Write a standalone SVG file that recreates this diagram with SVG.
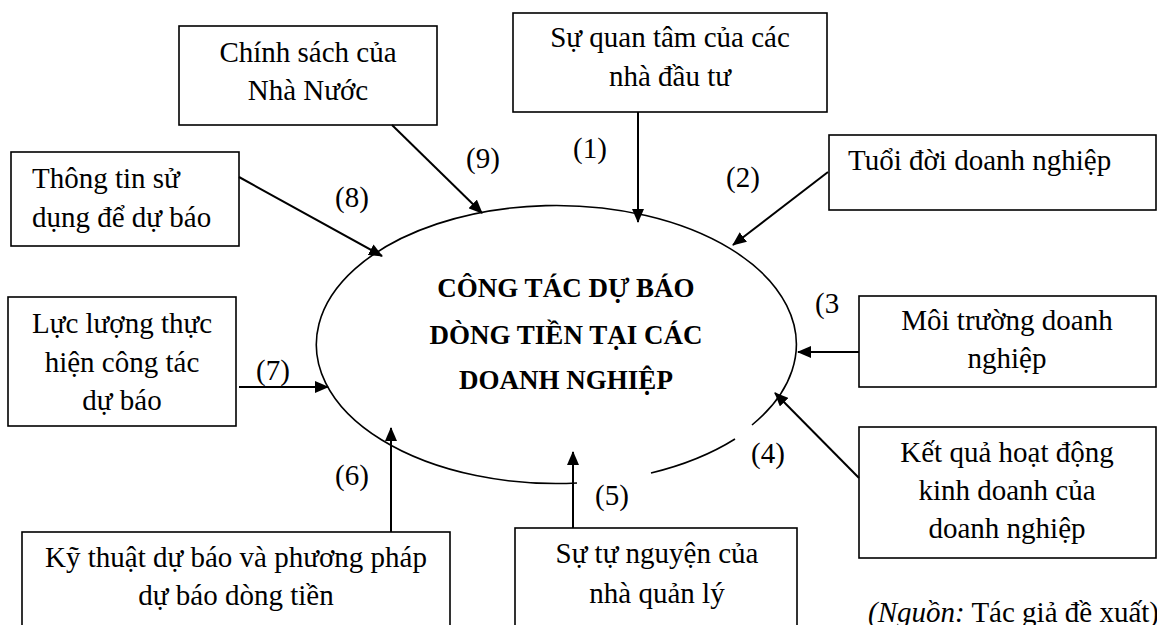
<svg xmlns="http://www.w3.org/2000/svg" width="1157" height="625" viewBox="0 0 1157 625">
<defs>
<style>
.box{fill:#fff;stroke:#000;stroke-width:1.6}
.t{font-family:"Liberation Serif","Times New Roman",serif;font-size:29px;fill:#000}
.c{text-anchor:middle}
.title{font-family:"Liberation Serif","Times New Roman",serif;font-size:27px;font-weight:bold;fill:#000;text-anchor:middle}
.arr{stroke:#000;stroke-width:2;fill:none;marker-end:url(#ah)}
.ell{stroke:#000;stroke-width:1.6;fill:none}
</style>
<marker id="ah" markerUnits="userSpaceOnUse" markerWidth="14" markerHeight="12" refX="13" refY="6" orient="auto">
<path d="M0,0 L14,6 L0,12 z" fill="#000"/>
</marker>
</defs>
<rect width="1157" height="625" fill="#fff"/>

<g id="center">
<path class="ell" d="M752,425 A240,139 0 1 0 577,483"/>
<path class="ell" d="M651,473 A240,139 0 0 0 735,439"/>
<text class="title" x="566" y="297">CÔNG TÁC DỰ BÁO</text>
<text class="title" x="566" y="344">DÒNG TIỀN TẠI CÁC</text>
<text class="title" x="566" y="389">DOANH NGHIỆP</text>
</g>

<g id="n9">
<rect class="box" x="179" y="26" width="258" height="99"/>
<text class="t c" x="308" y="62">Chính sách của</text>
<text class="t c" x="308" y="100">Nhà Nước</text>
</g>
<g id="n1">
<rect class="box" x="513" y="13" width="314" height="99"/>
<text class="t c" x="670" y="47">Sự quan tâm của các</text>
<text class="t c" x="670" y="86">nhà đầu tư</text>
</g>
<g id="n2">
<rect class="box" x="829" y="135" width="327" height="75"/>
<text class="t" x="848" y="170">Tuổi đời doanh nghiệp</text>
</g>
<g id="n3">
<rect class="box" x="859" y="296" width="297" height="91"/>
<text class="t c" x="1007" y="330">Môi trường doanh</text>
<text class="t c" x="1007" y="368">nghiệp</text>
</g>
<g id="n4">
<rect class="box" x="859" y="427" width="297" height="131"/>
<text class="t c" x="1007" y="462">Kết quả hoạt động</text>
<text class="t c" x="1007" y="500">kinh doanh của</text>
<text class="t c" x="1007" y="538">doanh nghiệp</text>
</g>
<g id="n5">
<rect class="box" x="515" y="528" width="282" height="110"/>
<text class="t c" x="657" y="563">Sự tự nguyện của</text>
<text class="t c" x="657" y="603">nhà quản lý</text>
</g>
<g id="n6">
<rect class="box" x="22" y="532" width="428" height="110"/>
<text class="t c" x="236" y="567">Kỹ thuật dự báo và phương pháp</text>
<text class="t c" x="236" y="605">dự báo dòng tiền</text>
</g>
<g id="n7">
<rect class="box" x="8" y="297" width="228" height="129"/>
<text class="t c" x="122" y="333">Lực lượng thực</text>
<text class="t c" x="122" y="372">hiện công tác</text>
<text class="t c" x="122" y="410">dự báo</text>
</g>
<g id="n8">
<rect class="box" x="11" y="152" width="228" height="94"/>
<text class="t" x="32" y="188">Thông tin sử</text>
<text class="t" x="32" y="227">dụng để dự báo</text>
</g>

<g id="connectors">
<line class="arr" x1="392" y1="125" x2="482" y2="213"/>
<line class="arr" x1="638" y1="112" x2="638" y2="222"/>
<line class="arr" x1="828" y1="172" x2="733" y2="245"/>
<line class="arr" x1="859" y1="352" x2="798" y2="352"/>
<line class="arr" x1="859" y1="478" x2="775" y2="393"/>
<line class="arr" x1="573" y1="528" x2="573" y2="452"/>
<line class="arr" x1="391" y1="532" x2="391" y2="428"/>
<line class="arr" x1="239" y1="387" x2="328" y2="387"/>
<line class="arr" x1="239" y1="177" x2="382" y2="256"/>
<text class="t c" x="483" y="168">(9)</text>
<text class="t c" x="590" y="158">(1)</text>
<text class="t c" x="743" y="187">(2)</text>
<text class="t c" x="352" y="207">(8)</text>
<text class="t" x="815" y="313">(3</text>
<text class="t c" x="768" y="463">(4)</text>
<text class="t c" x="612" y="505">(5)</text>
<text class="t c" x="352" y="485">(6)</text>
<text class="t c" x="273" y="380">(7)</text>
</g>

<text class="t" x="868" y="622"><tspan font-style="italic">(Nguồn:</tspan> Tác giả đề xuất)</text>
</svg>
